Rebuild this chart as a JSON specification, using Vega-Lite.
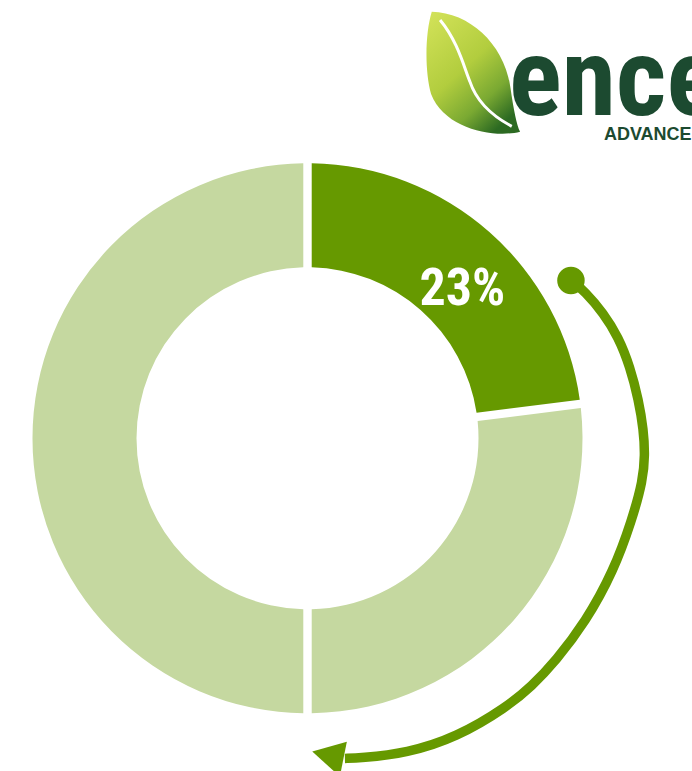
{
  "$schema": "https://vega.github.io/schema/vega-lite/v6.json",
  "width": 550,
  "height": 550,
  "autosize": {"type": "none"},
  "padding": {"left": 32.5, "top": 163.3, "right": 109.5, "bottom": 57.7},
  "background": "white",
  "config": {"view": {"stroke": null}},
  "layer": [
    {
      "data": {"values": [
        {"segment": "Share", "value": 23, "order": 1},
        {"segment": "Rest A", "value": 27, "order": 2},
        {"segment": "Rest B", "value": 50, "order": 3}
      ]},
      "mark": {"type": "arc", "outerRadius": 275, "innerRadius": 171, "padAngle": 0.026},
      "encoding": {
        "theta": {"field": "value", "type": "quantitative", "stack": true},
        "order": {"field": "order", "type": "quantitative"},
        "color": {"field": "segment", "type": "nominal", "legend": null,
          "scale": {"domain": ["Share", "Rest A", "Rest B"], "range": ["#669900", "#c5d8a0", "#c5d8a0"]}}
      }
    },
    {
      "data": {"values": [
        {"i": 0, "x": 0.959, "y": 0.574},
        {"i": 1, "x": 1.009, "y": 0.534},
        {"i": 2, "x": 1.076, "y": 0.455},
        {"i": 3, "x": 1.130, "y": 0.369},
        {"i": 4, "x": 1.173, "y": 0.260},
        {"i": 5, "x": 1.204, "y": 0.139},
        {"i": 6, "x": 1.222, "y": 0.030},
        {"i": 7, "x": 1.227, "y": -0.061},
        {"i": 8, "x": 1.220, "y": -0.152},
        {"i": 9, "x": 1.180, "y": -0.297},
        {"i": 10, "x": 1.113, "y": -0.483},
        {"i": 11, "x": 1.011, "y": -0.668},
        {"i": 12, "x": 0.902, "y": -0.810},
        {"i": 13, "x": 0.816, "y": -0.901},
        {"i": 14, "x": 0.724, "y": -0.978},
        {"i": 15, "x": 0.543, "y": -1.087},
        {"i": 16, "x": 0.361, "y": -1.145},
        {"i": 17, "x": 0.191, "y": -1.163},
        {"i": 18, "x": 0.136, "y": -1.164}
      ]},
      "mark": {"type": "line", "interpolate": "basis", "strokeWidth": 9.5, "color": "#669900"},
      "encoding": {
        "x": {"field": "x", "type": "quantitative", "axis": null, "scale": {"domain": [-1, 1], "nice": false, "zero": false}},
        "y": {"field": "y", "type": "quantitative", "axis": null, "scale": {"domain": [-1, 1], "nice": false, "zero": false}},
        "order": {"field": "i", "type": "quantitative"}
      }
    },
    {
      "data": {"values": [{"x": 0.958, "y": 0.574}]},
      "mark": {"type": "point", "shape": "circle", "filled": true, "opacity": 1, "size": 755, "color": "#669900"},
      "encoding": {
        "x": {"field": "x", "type": "quantitative", "axis": null, "scale": {"domain": [-1, 1], "nice": false, "zero": false}},
        "y": {"field": "y", "type": "quantitative", "axis": null, "scale": {"domain": [-1, 1], "nice": false, "zero": false}}
      }
    },
    {
      "data": {"values": [{"x": 0.130, "y": -1.166}]},
      "mark": {"type": "point", "shape": "M-1.55,-0.37L0.18,-0.86L-0.17,0.88Z", "filled": true, "opacity": 1, "size": 1600, "color": "#669900"},
      "encoding": {
        "x": {"field": "x", "type": "quantitative", "axis": null, "scale": {"domain": [-1, 1], "nice": false, "zero": false}},
        "y": {"field": "y", "type": "quantitative", "axis": null, "scale": {"domain": [-1, 1], "nice": false, "zero": false}}
      }
    },
    {
      "data": {"values": [{"x": 0.563, "y": 0.485, "label": "23%"}]},
      "mark": {"type": "text", "font": "Roboto Condensed, Roboto", "fontWeight": "bold", "fontSize": 52, "color": "white", "align": "center", "baseline": "alphabetic"},
      "encoding": {
        "x": {"field": "x", "type": "quantitative", "axis": null, "scale": {"domain": [-1, 1], "nice": false, "zero": false}},
        "y": {"field": "y", "type": "quantitative", "axis": null, "scale": {"domain": [-1, 1], "nice": false, "zero": false}},
        "text": {"field": "label"}
      }
    },
    {
      "data": {"values": [{"x": 0.613, "y": 1.332}]},
      "mark": {"type": "point", "filled": true, "opacity": 1, "size": 15625,
        "shape": "M-0.709,-0.965C-0.1,-0.95 0.45,-0.45 0.55,0.25C0.6,0.6 0.65,0.85 0.704,0.955C0.3,1.06 -0.5,0.92 -0.72,0.35C-0.82,0.0 -0.82,-0.6 -0.709,-0.965Z",
        "fill": {"gradient": "linear", "x1": 0, "y1": 0, "x2": 0.7, "y2": 1,
          "stops": [
            {"offset": 0, "color": "#d4e35a"},
            {"offset": 0.5, "color": "#b2cd3e"},
            {"offset": 0.78, "color": "#7aa932"},
            {"offset": 1, "color": "#2c6a22"}
          ]}},
      "encoding": {
        "x": {"field": "x", "type": "quantitative", "axis": null, "scale": {"domain": [-1, 1], "nice": false, "zero": false}},
        "y": {"field": "y", "type": "quantitative", "axis": null, "scale": {"domain": [-1, 1], "nice": false, "zero": false}}
      }
    },
    {
      "data": {"values": [{"x": 0.613, "y": 1.332}]},
      "mark": {"type": "point", "filled": false, "opacity": 1, "size": 15625, "stroke": "white", "strokeWidth": 3,
        "shape": "M-0.576,-0.832C-0.3,-0.5 -0.2,-0.1 -0.1,0.15C0.0,0.45 0.25,0.7 0.571,0.869"},
      "encoding": {
        "x": {"field": "x", "type": "quantitative", "axis": null, "scale": {"domain": [-1, 1], "nice": false, "zero": false}},
        "y": {"field": "y", "type": "quantitative", "axis": null, "scale": {"domain": [-1, 1], "nice": false, "zero": false}}
      }
    },
    {
      "data": {"values": [{"x": 0.733, "y": 1.176, "label": "ence"}]},
      "mark": {"type": "text", "font": "Roboto Condensed, Roboto", "fontWeight": "bold", "fontSize": 110, "color": "#1c4a30", "align": "left", "baseline": "alphabetic"},
      "encoding": {
        "x": {"field": "x", "type": "quantitative", "axis": null, "scale": {"domain": [-1, 1], "nice": false, "zero": false}},
        "y": {"field": "y", "type": "quantitative", "axis": null, "scale": {"domain": [-1, 1], "nice": false, "zero": false}},
        "text": {"field": "label"}
      }
    },
    {
      "data": {"values": [{"x": 1.078, "y": 1.085, "label": "ADVANCE"}]},
      "mark": {"type": "text", "font": "Liberation Sans", "fontWeight": "bold", "fontSize": 18, "color": "#1c4a30", "align": "left", "baseline": "alphabetic"},
      "encoding": {
        "x": {"field": "x", "type": "quantitative", "axis": null, "scale": {"domain": [-1, 1], "nice": false, "zero": false}},
        "y": {"field": "y", "type": "quantitative", "axis": null, "scale": {"domain": [-1, 1], "nice": false, "zero": false}},
        "text": {"field": "label"}
      }
    }
  ]
}
